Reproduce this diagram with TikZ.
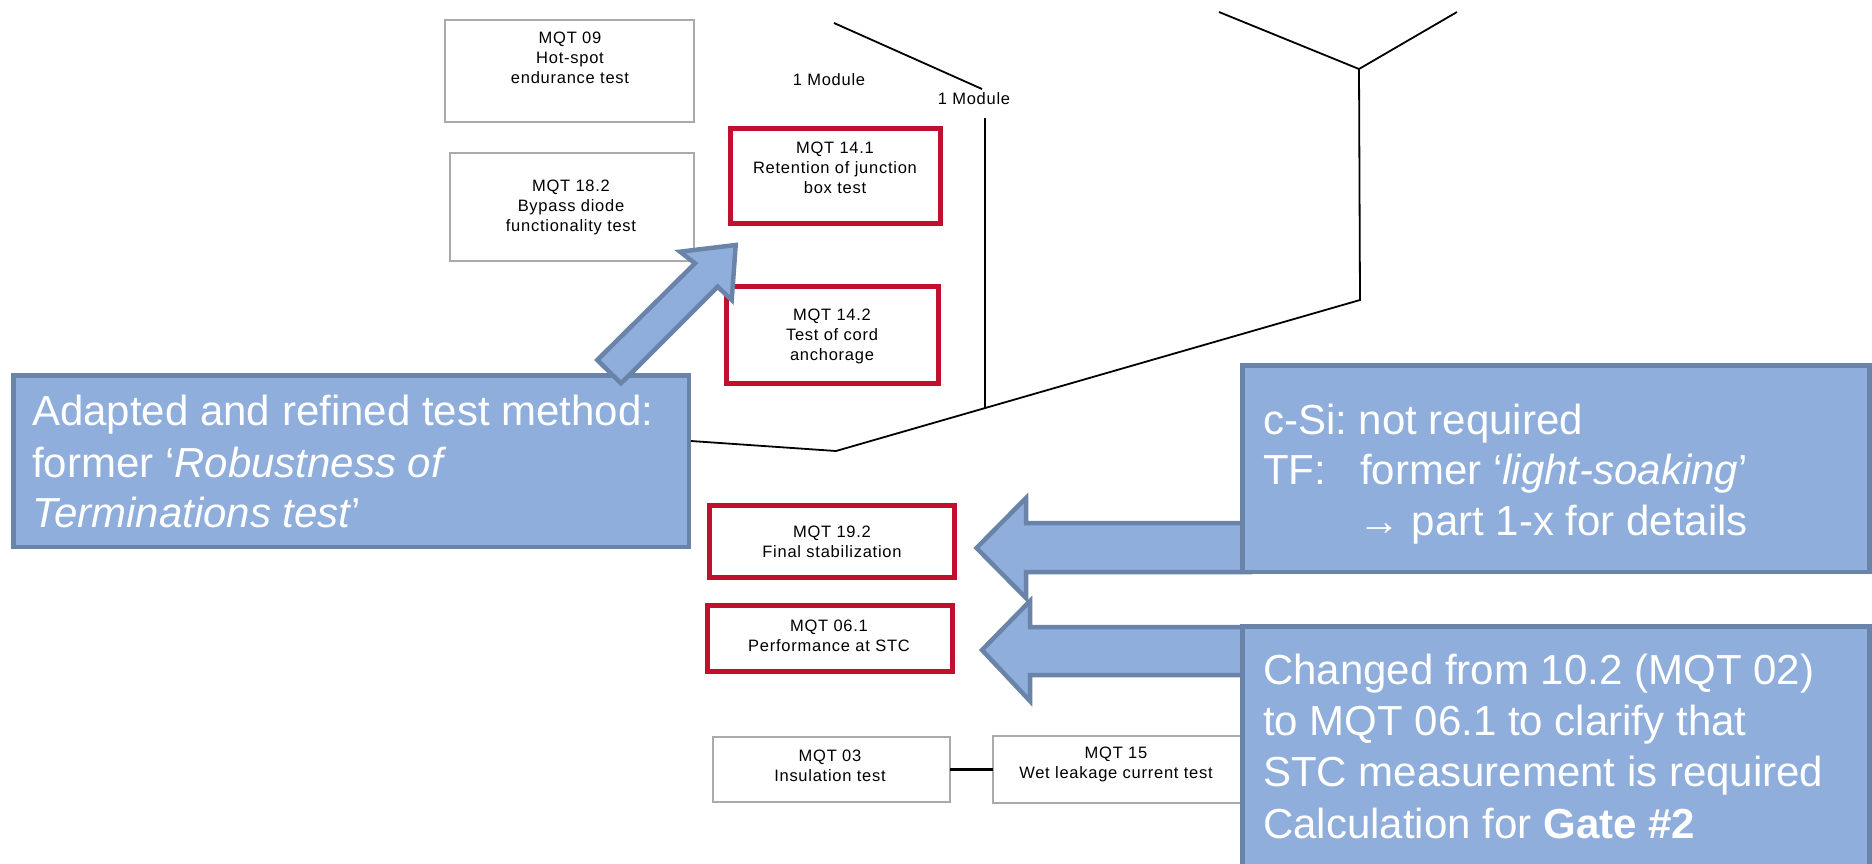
\documentclass[tikz,border=0pt]{standalone}
\usepackage{fontspec}
\setmainfont{Liberation Sans}
\newfontfamily\tracked[LetterSpace=4.5]{Liberation Sans}
\definecolor{calloutfill}{RGB}{143,174,219}
\definecolor{calloutedge}{RGB}{106,131,168}
\definecolor{testred}{RGB}{192,16,46}
\definecolor{testgray}{RGB}{170,170,170}
\frenchspacing

\begin{document}
\begin{tikzpicture}[x=1pt,y=-1pt,
  graybox/.style={draw=testgray, line width=1.5pt, inner sep=0pt, outer sep=0pt, anchor=north west},
  redbox/.style={draw=testred, line width=5pt, inner sep=0pt, outer sep=0pt, anchor=north west},
  callout/.style={draw=calloutedge, fill=calloutfill, line width=4.5pt, line join=miter},
  calloutbox/.style={callout, inner sep=0pt, outer sep=0pt, anchor=north west},
  boxtext/.style={font=\tracked\fontsize{16.5}{20}\selectfont, align=center, inner sep=0pt},
  bigtext/.style={font=\fontsize{42}{50.5}\selectfont, text=white, anchor=base west, inner sep=0pt},
  wire/.style={line width=1.8pt},
  thinwire/.style={line width=1.3pt}
]
\useasboundingbox (0,0) rectangle (1872,863);

% connecting lines of the flow chart
\coordinate (ya) at (1219,12);
\coordinate (yb) at (1457,12);
\coordinate (yj) at (1359,69);
\coordinate (yd) at (1360,300);
\coordinate (jn) at (836,451);
\coordinate (ls) at (691,441);
\coordinate (va) at (985,118);
\coordinate (vb) at (985,408);
\coordinate (da) at (834,23);
\coordinate (db) at (982,89);
\draw[wire] (ya) -- (yj) -- (yb);
\draw[wire] (yj) -- (yd) -- (jn) -- (ls);
\draw[thinwire] (va) -- (vb);
\draw[wire] (da) -- (db);

% test boxes
\node[graybox, minimum width=249pt, minimum height=102pt] (m09) at (444.75,19.75) {};
\node[graybox, minimum width=244pt, minimum height=108pt] (m182) at (449.75,152.75) {};
\node[redbox, minimum width=210pt, minimum height=95pt] (m141) at (730.5,128.5) {};
\node[redbox, minimum width=212pt, minimum height=97pt] (m142) at (726.5,286.5) {};
\node[redbox, minimum width=245pt, minimum height=72pt] (m192) at (709.5,505.5) {};
\node[redbox, minimum width=245pt, minimum height=66pt] (m061) at (707.5,605.5) {};
\node[graybox, minimum width=237pt, minimum height=65pt] (m03) at (712.75,736.75) {};
\node[graybox, minimum width=249pt, minimum height=67pt] (m15) at (992.75,735.75) {};
\draw[line width=3pt] (m03.east) -- (m15.west);

% box labels
\node[boxtext] (t09) at (570,58) {MQT 09\\Hot-spot\\endurance test};
\node[boxtext] (t182) at (571,207) {MQT 18.2\\Bypass diode\\functionality test};
\node[boxtext] (t141) at (835,168) {MQT 14.1\\Retention of junction\\box test};
\node[boxtext] (t142) at (832,336) {MQT 14.2\\Test of cord\\anchorage};
\node[boxtext] (t192) at (832,542) {MQT 19.2\\Final stabilization};
\node[boxtext] (t061) at (829,636) {MQT 06.1\\Performance at STC};
\node[boxtext] (t03) at (830,766) {MQT 03\\Insulation test};
\node[boxtext] (t15) at (1116,764) {MQT 15\\Wet leakage current test};
\node[boxtext] (mod1) at (829,80) {1 Module};
\node[boxtext] (mod2) at (974,99) {1 Module};

% block arrows pointing left
\draw[callout] (1250,523) -- (1026,523) -- (1026,498) -- (976.5,548) -- (1026,598) -- (1026,572) -- (1250,572) -- cycle;
\draw[callout] (1250,627) -- (1030,627) -- (1030,601) -- (982,650) -- (1030,701) -- (1030,675) -- (1250,675) -- cycle;

% callout boxes
\node[calloutbox, minimum width=627pt, minimum height=206.5pt] (cb2) at (1242.25,365.25) {};
\node[calloutbox, minimum width=627pt, minimum height=260pt] (cb3) at (1242.25,626.25) {};
\node[calloutbox, minimum width=675.5pt, minimum height=171.5pt] (cb1) at (13.25,375.25) {};

% block arrow pointing up right
\draw[callout] (735.7,245) -- (680,251.7) -- (695,263.3) -- (597.3,360) -- (621,383.3) -- (717.7,286.7) -- (731.7,300) -- cycle;

% callout texts
\node[bigtext] (c1a) at (32,425) {Adapted and refined test method:};
\node[bigtext] (c1b) at (32,477) {former ‘\textit{Robustness of}};
\node[bigtext] (c1c) at (32,527) {\textit{Terminations test}’};

\node[bigtext] (c2a) at (1263,434) {c-Si: not required};
\node[bigtext] (c2b) at (1263,484) {\makebox[97pt][l]{TF:}former ‘\textit{light-soaking}’};
\node[bigtext] (c2c) at (1263,535) {\hspace*{95pt}→ part 1-x for details};

\node[bigtext] (c3a) at (1263,684) {Changed from 10.2 (MQT 02)};
\node[bigtext] (c3b) at (1263,735) {to MQT 06.1 to clarify that};
\node[bigtext] (c3c) at (1263,786) {STC measurement is required};
\node[bigtext] (c3d) at (1263,838) {Calculation for \textbf{Gate \#2}};
\end{tikzpicture}
\end{document}
